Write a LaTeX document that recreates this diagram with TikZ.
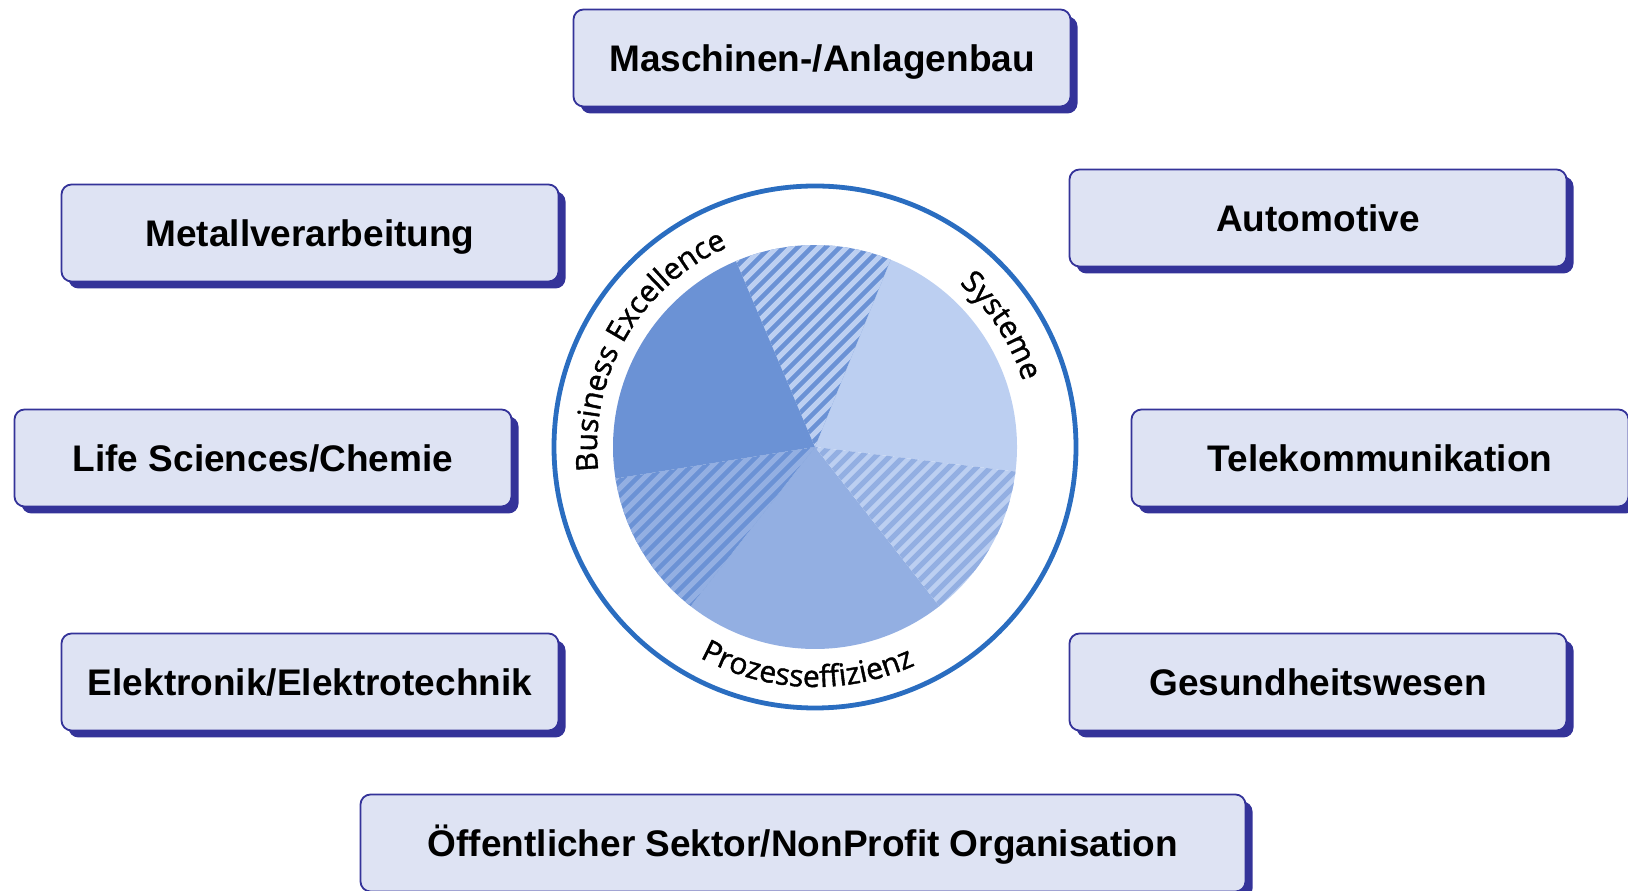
\documentclass[tikz,border=0pt]{standalone}
\usepackage{fontspec}
\setmainfont{Liberation Sans}
\newfontfamily\ringfont[FakeBold=1.3]{Open Sans}
\usepackage{tikz}
\usetikzlibrary{shadows}
\usetikzlibrary{decorations.text}

\definecolor{boxfill}{HTML}{DEE3F3}
\definecolor{boxline}{HTML}{343399}
\definecolor{ringblue}{HTML}{2A6DC0}
\definecolor{pieDark}{HTML}{6B92D5}
\definecolor{pieMid}{HTML}{93AFE2}
\definecolor{pieLight}{HTML}{BCCFF1}

\newcommand{\ringfmt}{\ringfont\fontsize{30}{32}\selectfont}

\tikzset{
	branche/.style={draw=boxline, line width=1.8pt, fill=boxfill, rounded corners=10pt,
		minimum width=497pt, minimum height=97pt, inner sep=0pt,
		font=\bfseries\fontsize{37}{42}\selectfont, text height=26.5pt, text depth=0pt,
		drop shadow={shadow xshift=7pt, shadow yshift=-7pt, fill=boxline, opacity=1}},
	ringtext/.style={decorate, decoration={text along path, text align=center, text={#1}}}
}

\begin{document}
\begin{tikzpicture}[x=1pt,y=1pt]
	
	\useasboundingbox (0,0) rectangle (1628,891);
	
	% centre of the pie and of the ring
	\coordinate (C) at (815,444);
	
	%%%%%%%%%%%%%%%%%%%%%%%%%%%%%%%%%%%%%%%%%%%%%%%%%%%%%%%%%%%%%%
	\begin{scope}[shift={(C)}]
		
		% solid sectors: start/end angle/colour
		\foreach \a/\b/\col in {113/189/pieDark, 232/308/pieMid, -7/68/pieLight}
			\fill[\col] (0,0) -- (\a:202) arc[start angle=\a, end angle=\b, radius=202] -- cycle;
		
		% striped sectors between them
		\foreach \a/\b/\base/\stripe in {189/232/pieDark/pieMid, 308/353/pieLight/pieMid, 68/113/pieDark/pieLight}{
			\begin{scope}
				\clip (0,0) -- (\a:202) arc[start angle=\a, end angle=\b, radius=202] -- cycle;
				\fill[\base] (-210,-210) rectangle (210,210);
				\foreach \k in {-22,...,22}
					\draw[\stripe, line width=5pt] (\k*14-220,-220) -- ++(440,440);
			\end{scope}
		}
		
		\draw[ringblue, line width=4.8pt] (0,0) circle[radius=261];
		
		% labels round the ring
		\path[ringtext={|\ringfmt|Business Excellence}] (200:218) arc[start angle=200, end angle=100, radius=218];
		\path[ringtext={|\ringfmt|Systeme}] (73:218) arc[start angle=73, end angle=-7, radius=218];
		\path[ringtext={|\ringfmt|Prozesseffizienz}] (218:240) arc[start angle=218, end angle=318, radius=240];
		
	\end{scope}
	
	%%%%%%%%%%%%%%%%%%%%%%%%%%%%%%%%%%%%%%%%%%%%%%%%%%%%%%%%%%%%%%
	% the branches round the circle
	\node[branche] (masch)  at (822,833) {Maschinen-/Anlagenbau};
	\node[branche] (metall) at (310,658) {Metallverarbeitung};
	\node[branche] (auto)   at (1318,673) {Automotive};
	\node[branche] (life)   at (263,433) {Life Sciences/Chemie};
	\node[branche] (tele)   at (1380,433) {Telekommunikation};
	\node[branche] (elek)   at (310,209) {Elektronik/Elektrotechnik};
	\node[branche] (gesund) at (1318,209) {Gesundheitswesen};
	\node[branche, minimum width=885pt] (oeff) at (803,48) {Öffentlicher Sektor/NonProfit Organisation};
	
\end{tikzpicture}
\end{document}
